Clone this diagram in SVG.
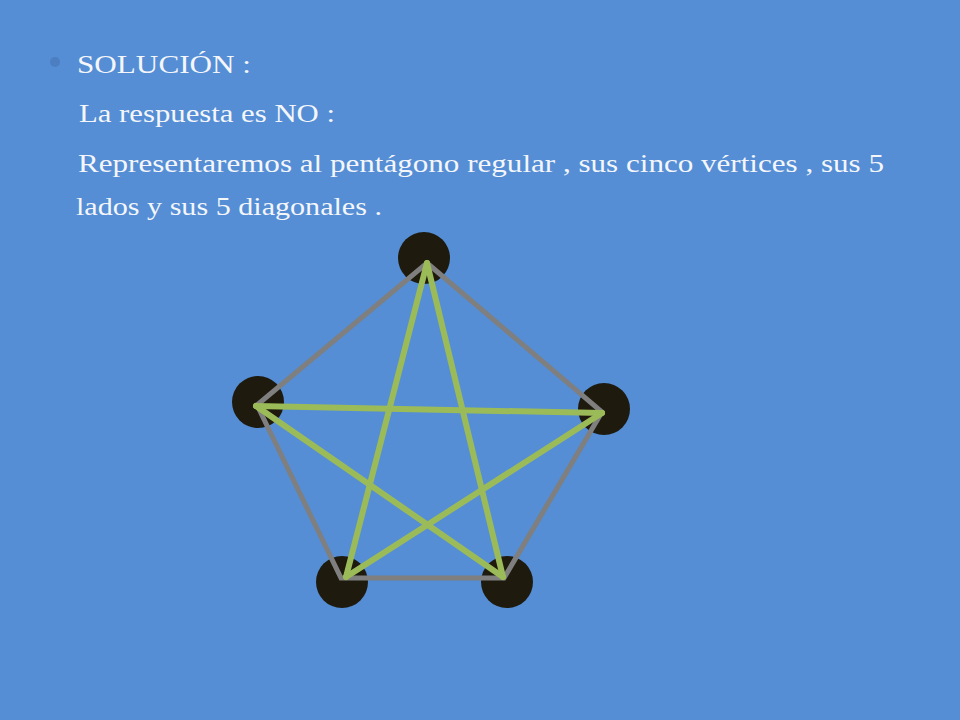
<svg xmlns="http://www.w3.org/2000/svg" width="960" height="720" viewBox="0 0 960 720">
<style>
.t{font-family:"Liberation Serif","Times New Roman",serif;font-size:26px;fill:#F4F6FA}
.v{fill:#1E1A0E}
.side{stroke:#7F7F7F;stroke-width:5;fill:none}
.diag{stroke:#9BBB59;stroke-width:6;fill:none;stroke-linecap:round}
</style>
<rect width="960" height="720" fill="#558ED5"/>
<g id="text">
<circle cx="55" cy="62" r="5" fill="#4C7EC2"/>
<text class="t" x="77" y="73" font-size="29" textLength="174" lengthAdjust="spacingAndGlyphs">SOLUCIÓN :</text>
<text class="t" x="79" y="122" textLength="256" lengthAdjust="spacingAndGlyphs">La respuesta es NO :</text>
<text class="t" x="78" y="172" textLength="806" lengthAdjust="spacingAndGlyphs">Representaremos al pentágono regular , sus cinco vértices , sus 5</text>
<text class="t" x="76" y="215" textLength="306" lengthAdjust="spacingAndGlyphs">lados y sus 5 diagonales .</text>
</g>
<g id="v1"><circle class="v" cx="424" cy="258" r="26"/></g>
<g id="v2"><circle class="v" cx="258" cy="402" r="26"/></g>
<g id="v3"><circle class="v" cx="604" cy="409" r="26"/></g>
<g id="v4"><circle class="v" cx="342" cy="582" r="26"/></g>
<g id="v5"><circle class="v" cx="507" cy="582" r="26"/></g>
<g id="connectors">
<polygon class="side" points="427,263 602,412 504,578 341,578 257,405"/>
<line class="diag" x1="427" y1="263" x2="346" y2="577"/>
<line class="diag" x1="427" y1="263" x2="503" y2="577"/>
<line class="diag" x1="256" y1="406" x2="602" y2="413"/>
<line class="diag" x1="256" y1="406" x2="503" y2="577"/>
<line class="diag" x1="602" y1="413" x2="346" y2="577"/>
</g>
</svg>
